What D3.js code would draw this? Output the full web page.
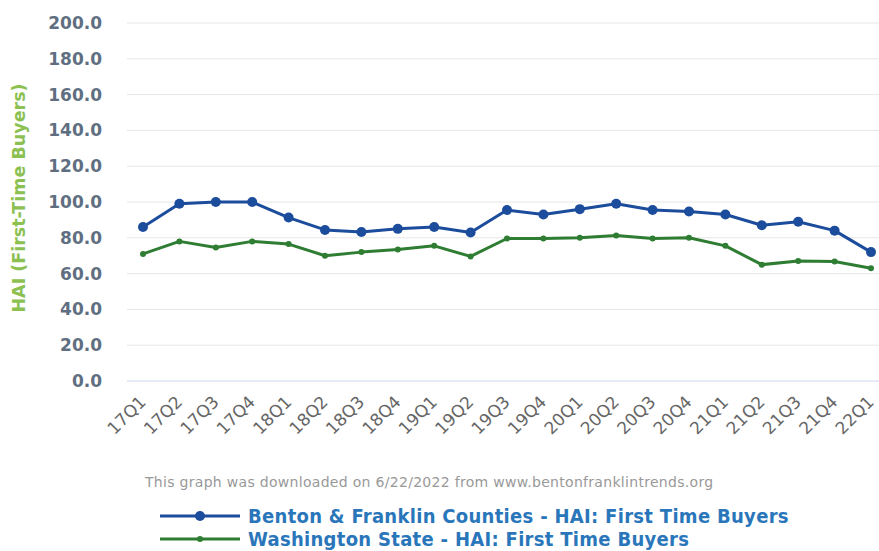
<!DOCTYPE html>
<html><head><meta charset="utf-8">
<script src="https://cdn.jsdelivr.net/npm/d3@7"></script>
<style>body{margin:0;background:#fff}svg{display:block}</style>
</head><body>
<script>
const categories = ["17Q1","17Q2","17Q3","17Q4","18Q1","18Q2","18Q3","18Q4","19Q1","19Q2","19Q3","19Q4","20Q1","20Q2","20Q3","20Q4","21Q1","21Q2","21Q3","21Q4","22Q1"];
const bentonFranklin = [86.0,99.0,100.0,100.0,91.3,84.4,83.2,85.0,86.0,83.0,95.5,93.0,96.0,99.0,95.5,94.7,93.0,87.0,89.0,84.0,72.0];
const washington = [71.0,78.0,74.6,78.0,76.5,70.0,72.0,73.5,75.5,69.6,79.6,79.6,80.0,81.3,79.6,80.0,75.5,65.0,67.0,66.8,63.0];
const yTicks = [0,20,40,60,80,100,120,140,160,180,200];
const seriesNames = ["Benton & Franklin Counties - HAI: First Time Buyers","Washington State - HAI: First Time Buyers"];

const W=879,H=551;
const svg=d3.select("body").append("svg").attr("width",W).attr("height",H);
const x=d3.scalePoint().domain(categories).range([143,871]);
const y=d3.scaleLinear().domain([0,200]).range([381,23]);

// grid
svg.append("g").selectAll("line").data(yTicks).join("line")
  .attr("x1",127).attr("x2",879).attr("y1",d=>y(d)).attr("y2",d=>y(d))
  .attr("stroke",d=>d===0?"#ccd6eb":"#e6e6e6").attr("stroke-width",1);

// y tick labels
svg.append("g").selectAll("text").data(yTicks).join("text")
  .attr("x",102).attr("y",d=>y(d)).attr("dy","0.35em").attr("text-anchor","end")
  .attr("font-family","DejaVu Sans").attr("font-weight","bold").attr("font-size",17)
  .attr("fill","#5f6f81").text(d=>d.toFixed(1));

// y title
svg.append("text").attr("transform","translate(25,198) rotate(-90)").attr("text-anchor","middle")
  .attr("font-family","DejaVu Sans").attr("font-weight","bold").attr("font-size",17.5)
  .attr("fill","#8cc152").text("HAI (First-Time Buyers)");

// x labels
svg.append("g").selectAll("text").data(categories).join("text")
  .attr("transform",d=>`translate(${x(d)+4},${403}) rotate(-45)`).attr("text-anchor","end")
  .attr("font-family","DejaVu Sans").attr("font-size",17).attr("fill","#666")
  .text(d=>d);

const line=d3.line().x((d,i)=>x(categories[i])).y(d=>y(d));
const series=[{v:bentonFranklin,c:"#1c4c9c",r:5},{v:washington,c:"#2e7d32",r:3}];
series.forEach(s=>{
  svg.append("path").attr("d",line(s.v)).attr("fill","none").attr("stroke",s.c).attr("stroke-width",3).attr("stroke-linejoin","round");
  svg.append("g").selectAll("circle").data(s.v).join("circle")
    .attr("cx",(d,i)=>x(categories[i])).attr("cy",d=>y(d)).attr("r",s.r).attr("fill",s.c);
});

// credit
svg.append("text").attr("x",145).attr("y",487).attr("font-family","DejaVu Sans").attr("font-size",14)
  .attr("letter-spacing",0.3).attr("fill","#999").text("This graph was downloaded on 6/22/2022 from www.bentonfranklintrends.org");

// legend
series.forEach((s,i)=>{
  const ly=516+i*23;
  svg.append("line").attr("x1",160).attr("x2",240).attr("y1",ly).attr("y2",ly).attr("stroke",s.c).attr("stroke-width",3);
  svg.append("circle").attr("cx",200).attr("cy",ly).attr("r",s.r).attr("fill",s.c);
  svg.append("text").attr("x",248).attr("y",ly).attr("dy","0.35em")
    .attr("font-family","DejaVu Sans Condensed, DejaVu Sans").attr("font-weight","bold").attr("font-size",20)
    .attr("letter-spacing",0.3).attr("fill","#2a76bb").text(seriesNames[i]);
});
</script>
</body></html>
